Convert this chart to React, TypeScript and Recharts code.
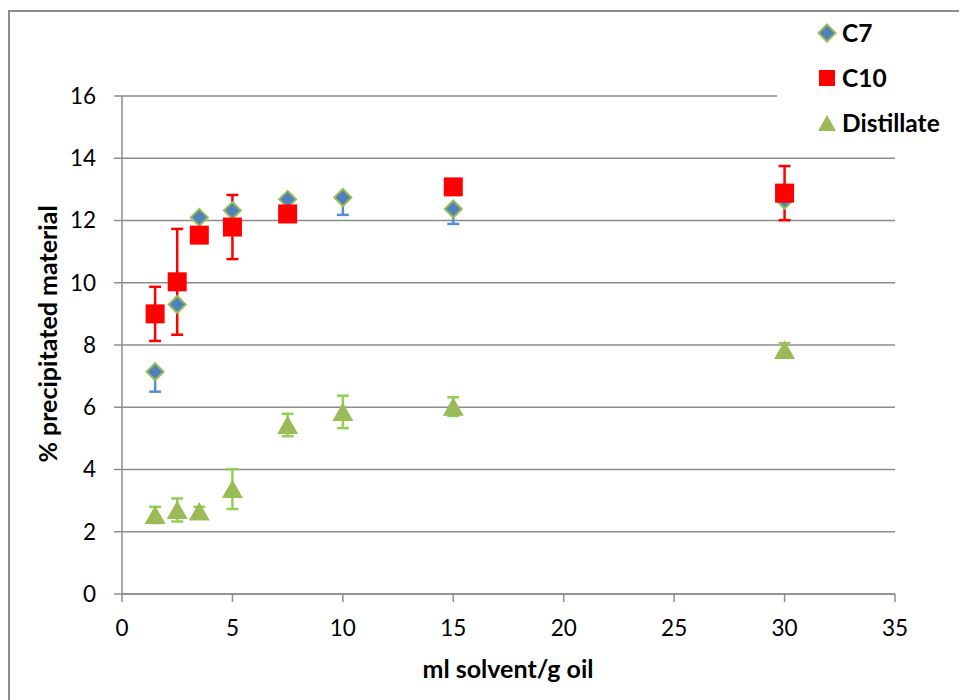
import React from 'react';
import { ScatterChart, Scatter, XAxis, YAxis, CartesianGrid, ErrorBar, Legend, Label } from 'recharts';

// ---- data ----
const xC7 = [1.5, 2.5, 3.5, 5, 7.5, 10, 15, 30];
const yC7 = [7.14, 9.3, 12.1, 12.32, 12.68, 12.74, 12.37, 12.65];
const errC7Low = [0.64, 0, 0, 0, 0, 0.56, 0.48, 0];

const xC10 = [1.5, 2.5, 3.5, 5, 7.5, 15, 30];
const yC10 = [9.0, 10.03, 11.53, 11.79, 12.21, 13.08, 12.88];
const errC10 = [0.87, 1.7, 0, 1.03, 0, 0, 0.87];

const xDist = [1.5, 2.5, 3.5, 5, 7.5, 10, 15, 30];
const yDist = [2.54, 2.7, 2.65, 3.37, 5.43, 5.85, 6.02, 7.84];
const errDist = [0.26, 0.37, 0.15, 0.64, 0.36, 0.52, 0.3, 0.22];

const xTicks = [0, 5, 10, 15, 20, 25, 30, 35];
const yTicks = [0, 2, 4, 6, 8, 10, 12, 14, 16];

const seriesNames = ['C7', 'C10', 'Distillate'];
const xTitle = 'ml solvent/g oil';
const yTitle = '% precipitated material';

// ---- derived tables ----
const dataC7 = xC7.map((x, i) => ({ x, y: yC7[i], err: errC7Low[i] > 0 ? [errC7Low[i], 0] : null }));
const dataC10 = xC10.map((x, i) => ({ x, y: yC10[i], err: errC10[i] > 0 ? errC10[i] : null }));
const dataDist = xDist.map((x, i) => ({ x, y: yDist[i], err: errDist[i] > 0 ? errDist[i] : null }));

const BLUE = '#4f81bd';
const GREEN = '#9bbb59';
const RED = '#ff0000';
const GRID = '#8c8c8c';
const FONT = 'Lato, "Open Sans", sans-serif';

const Diamond = ({ cx, cy }: any) => (
  <path
    d={`M${cx},${cy - 8.5} L${cx + 8.5},${cy} L${cx},${cy + 8.5} L${cx - 8.5},${cy} Z`}
    fill={BLUE}
    stroke={GREEN}
    strokeWidth={2}
  />
);
const Square = ({ cx, cy }: any) => <rect x={cx - 9.5} y={cy - 9.5} width={19} height={19} fill={RED} />;
const Triangle = ({ cx, cy }: any) => (
  <path d={`M${cx},${cy - 9.5} L${cx + 10.5},${cy + 9} L${cx - 10.5},${cy + 9} Z`} fill={GREEN} />
);
const Empty = () => <g />;

const legendMarkers = [
  (x: number, y: number) => <Diamond cx={x} cy={y} />,
  (x: number, y: number) => <rect x={x - 8} y={y - 8} width={16} height={16} fill={RED} />,
  (x: number, y: number) => <path d={`M${x},${y - 8} L${x + 9},${y + 8} L${x - 9},${y + 8} Z`} fill={GREEN} />,
];

const renderLegend = () => (
  <div style={{ position: 'relative', width: 185, height: 140, background: '#fff' }}>
    {seriesNames.map((name, i) => (
      <div key={name} style={{ position: 'absolute', left: 0, top: 20 + i * 45 - 15, height: 30, width: 185 }}>
        <svg width={64} height={30} style={{ position: 'absolute', left: 0, top: 0 }}>
          {legendMarkers[i](50, 15)}
        </svg>
        <span
          style={{
            position: 'absolute',
            left: 65,
            top: 0,
            lineHeight: '30px',
            fontFamily: FONT,
            fontWeight: 700,
            fontSize: 24.5,
            color: '#000',
            whiteSpace: 'nowrap',
          }}
        >
          {name}
        </span>
      </div>
    ))}
  </div>
);

const tickStyle = { fontFamily: FONT, fontSize: 22.5, fill: '#000' };

export default function App() {
  return (
    <div style={{ position: 'relative', width: 959, height: 692 }}>
      <div
        style={{
          position: 'absolute',
          left: 0,
          top: 2,
          width: 959,
          height: 690,
          borderLeft: `2px solid ${GRID}`,
          borderTop: `2px solid ${GRID}`,
          boxSizing: 'border-box',
        }}
      />
      <div style={{ position: 'absolute', left: 0, top: 0 }}>
        <ScatterChart width={959} height={692} margin={{ top: 88, right: 72, bottom: 0, left: 0 }}>
          <CartesianGrid vertical={false} stroke={GRID} strokeWidth={1.5} />
          <XAxis
            type="number"
            dataKey="x"
            domain={[0, 35]}
            ticks={xTicks}
            interval={0}
            height={106}
            stroke={GRID}
            strokeWidth={1.5}
            tickSize={8}
            tickMargin={18}
            tick={tickStyle}
            allowDataOverflow
          >
            <Label
              content={() => (
                <text
                  x={500}
                  y={660}
                  textAnchor="middle"
                  dominantBaseline="central"
                  fontFamily={FONT}
                  fontWeight={700}
                  fontSize={25}
                  fill="#000"
                >
                  {xTitle}
                </text>
              )}
            />
          </XAxis>
          <YAxis
            type="number"
            dataKey="y"
            domain={[0, 16]}
            ticks={yTicks}
            interval={0}
            width={114}
            stroke={GRID}
            strokeWidth={1.5}
            tickSize={8}
            tickMargin={18}
            tick={tickStyle}
            allowDataOverflow
          >
            <Label
              content={() => (
                <text
                  x={39}
                  y={326}
                  textAnchor="middle"
                  dominantBaseline="central"
                  transform="rotate(-90, 39, 326)"
                  fontFamily={FONT}
                  fontWeight={700}
                  fontSize={25}
                  fill="#000"
                >
                  {yTitle}
                </text>
              )}
            />
          </YAxis>
          <Legend
            layout="vertical"
            align="center"
            verticalAlign="middle"
            content={renderLegend}
            wrapperStyle={{ left: 769, top: 5, width: 185, height: 140 }}
          />
          {/* error bars first so markers sit on top */}
          <Scatter data={dataC7} shape={Empty} isAnimationActive={false} legendType="none">
            <ErrorBar dataKey="err" direction="y" stroke="#558ed5" strokeWidth={2.5} width={6} isAnimationActive={false} />
          </Scatter>
          <Scatter data={dataC10} shape={Empty} isAnimationActive={false} legendType="none">
            <ErrorBar dataKey="err" direction="y" stroke={RED} strokeWidth={2.5} width={6} isAnimationActive={false} />
          </Scatter>
          <Scatter data={dataDist} shape={Empty} isAnimationActive={false} legendType="none">
            <ErrorBar dataKey="err" direction="y" stroke="#92d050" strokeWidth={2.5} width={6} isAnimationActive={false} />
          </Scatter>
          <Scatter name="C7" data={dataC7} shape={Diamond} isAnimationActive={false} />
          <Scatter name="C10" data={dataC10} shape={Square} isAnimationActive={false} />
          <Scatter name="Distillate" data={dataDist} shape={Triangle} isAnimationActive={false} />
        </ScatterChart>
      </div>
    </div>
  );
}
